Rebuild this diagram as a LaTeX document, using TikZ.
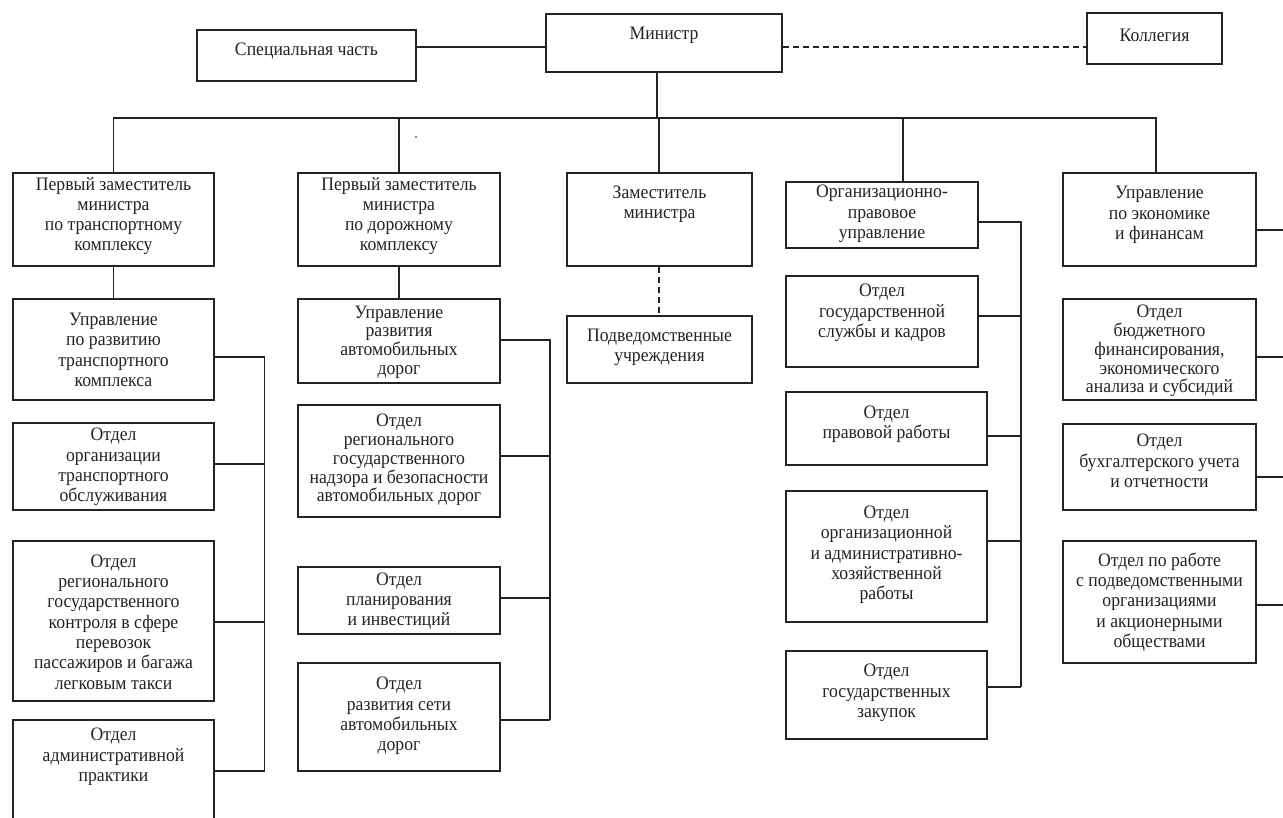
\documentclass[tikz,border=0pt]{standalone}
\usepackage{fontspec}
\setmainfont{Liberation Serif}[FakeStretch=0.93]
\definecolor{ink}{RGB}{35,35,35}
\tikzset{
  box/.style={draw=ink, line width=1.2pt, rectangle, inner sep=0pt},
  boxthick/.style={draw=ink, line width=1.8pt, rectangle, inner sep=0pt},
  txt/.style={align=center, inner sep=0pt, text=ink, font=\fontsize{19}{20.3}\selectfont},
  tighttxt/.style={txt, font=\fontsize{19}{18.8}\selectfont}
}
\tikzset{
  conn/.style={draw=ink, line width=1.2pt},
  dsh/.style={draw=ink, line width=1.2pt, dash pattern=on 6pt off 4pt}
}
% #1 style, #2 name, #3 x1, #4 y1, #5 x2, #6 y2, #7 text centre y, #8 text
\newcommand\bx[8][box]{%
  \node[#1, minimum width={(#5-#3)*1pt}, minimum height={(#6-#4)*1pt}] (#2) at ({(#3+#5)/2},{(#4+#6)/2}) {};
  \node[txt] (#2t) at ({(#3+#5)/2},#7) {#8};
}
\newcommand\bxT[8][box]{%
  \node[#1, minimum width={(#5-#3)*1pt}, minimum height={(#6-#4)*1pt}] (#2) at ({(#3+#5)/2},{(#4+#6)/2}) {};
  \node[tighttxt] (#2t) at ({(#3+#5)/2},#7) {#8};
}
\begin{document}
\begin{tikzpicture}[x=1pt,y=-1pt]
\useasboundingbox (0,0) rectangle (1283,817);
\clip (0,0) rectangle (1283,817);
\fill[white] (0,0) rectangle (1283,817);

% top row
\bx{spec}{197}{30}{416}{81}{51}{Специальная часть}
\bx{min}{546}{14}{782}{72}{35}{Министр}
\bx{kol}{1087}{13}{1222}{64}{35}{Коллегия}

% level 1
\bx{p1}{13}{173}{214}{266}{216}{Первый заместитель\\министра\\по транспортному\\комплексу}
\bx{p2}{298}{173}{500}{266}{216}{Первый заместитель\\министра\\по дорожному\\комплексу}
\bx{zam}{567}{173}{752}{266}{204}{Заместитель\\министра}
\bx{opu}{786}{182}{978}{248}{214}{Организационно-\\правовое\\управление}
\bx{ue}{1063}{173}{1256}{266}{215}{Управление\\по экономике\\и финансам}

% column 1
\bx{upt}{13}{299}{214}{400}{350}{Управление\\по развитию\\транспортного\\комплекса}
\bx[boxthick]{oorg}{13}{423}{214}{510}{467}{Отдел\\организации\\транспортного\\обслуживания}
\bx{oreg}{13}{541}{214}{701}{622}{Отдел\\регионального\\государственного\\контроля в сфере\\перевозок\\пассажиров и багажа\\легковым такси}
\bx{oadm}{13}{720}{214}{840}{757}{Отдел\\административной\\практики}

% column 2
\bxT{urad}{298}{299}{500}{383}{342}{Управление\\развития\\автомобильных\\дорог}
\bxT[boxthick]{onadz}{298}{405}{500}{517}{460}{Отдел\\регионального\\государственного\\надзора и безопасности\\автомобильных дорог}
\bx[boxthick]{oplan}{298}{567}{500}{634}{601}{Отдел\\планирования\\и инвестиций}
\bx{oset}{298}{663}{500}{771}{716}{Отдел\\развития сети\\автомобильных\\дорог}

% column 3
\bx{podv}{567}{316}{752}{383}{347}{Подведомственные\\учреждения}

% column 4
\bx[boxthick]{okad}{786}{276}{978}{367}{313}{Отдел\\государственной\\службы и кадров}
\bx{oprav}{786}{392}{987}{465}{424}{Отдел\\правовой работы}
\bx{ooah}{786}{491}{987}{622}{555}{Отдел\\организационной\\и административно-\\хозяйственной\\работы}
\bx{ozak}{786}{651}{987}{739}{693}{Отдел\\государственных\\закупок}

% column 5
\bxT[boxthick]{obud}{1063}{299}{1256}{400}{351}{Отдел\\бюджетного\\финансирования,\\экономического\\анализа и субсидий}
\bx{obuh}{1063}{424}{1256}{510}{461}{Отдел\\бухгалтерского учета\\и отчетности}
\bx[boxthick]{opodv}{1063}{541}{1256}{663}{602}{Отдел по работе\\с подведомственными\\организациями\\и акционерными\\обществами}

% coordinates
\coordinate (bus) at (657,118);
\coordinate (s1) at (264.5,771);
\coordinate (s2) at (550,720);
\coordinate (s3) at (1021,687);
\coordinate (edge) at (1295,0);

% top connectors
\draw[conn] (spec.east |- 0,47) -- (min.west |- 0,47);
\draw[dsh] (min.east |- 0,47) -- (kol.west |- 0,47);
\draw[conn] (min.south -| bus) -- (bus);
\draw[conn] (p1.north) |- (bus) -| (ue.north -| 1156,0);
\draw[conn] (p2.north |- bus) -- (p2.north);
\draw[conn] (bus -| 659,0) -- (zam.north -| 659,0);
\draw[conn] (bus -| 903,0) -- (opu.north -| 903,0);

% level-1 to level-2
\draw[conn] (p1.south) -- (upt.north);
\draw[conn] (p2.south) -- (urad.north);
\draw[dsh] (zam.south -| 659,0) -- (podv.north -| 659,0);

% spine 1
\draw[conn] (upt.east |- 0,357) -| (s1);
\draw[conn] (oorg.east |- 0,464) -- (s1 |- 0,464);
\draw[conn] (oreg.east |- 0,622) -- (s1 |- 0,622);
\draw[conn] (oadm.east |- 0,771) -- (s1);

% spine 2
\draw[conn] (urad.east |- 0,340) -| (s2);
\draw[conn] (onadz.east |- 0,456) -- (s2 |- 0,456);
\draw[conn] (oplan.east |- 0,598) -- (s2 |- 0,598);
\draw[conn] (oset.east |- 0,720) -- (s2);

% spine 3
\draw[conn] (opu.east |- 0,222) -| (s3);
\draw[conn] (okad.east |- 0,316) -- (s3 |- 0,316);
\draw[conn] (oprav.east |- 0,436) -- (s3 |- 0,436);
\draw[conn] (ooah.east |- 0,541) -- (s3 |- 0,541);
\draw[conn] (ozak.east |- 0,687) -- (s3);

% right stubs
\draw[conn] (ue.east |- 0,230) -- (edge |- 0,230);
\draw[conn] (obud.east |- 0,357) -- (edge |- 0,357);
\draw[conn] (obuh.east |- 0,477) -- (edge |- 0,477);
\draw[conn] (opodv.east |- 0,605) -- (edge |- 0,605);

% stray dot
\fill[ink] (416,137) circle (0.8);
\end{tikzpicture}
\end{document}
